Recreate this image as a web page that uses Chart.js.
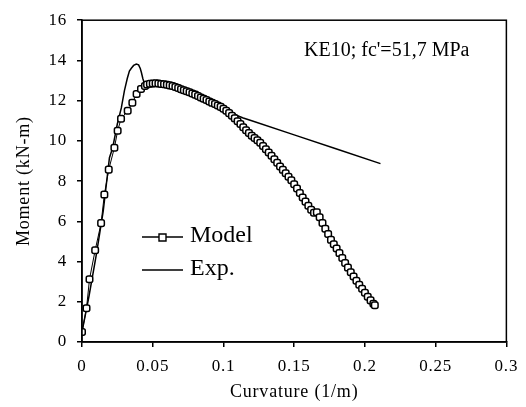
<!DOCTYPE html>
<html>
<head>
<meta charset="utf-8">
<script src="https://cdn.jsdelivr.net/npm/chart.js@4.4.0/dist/chart.umd.min.js"></script>
<style>
  html, body { margin: 0; padding: 0; background: #fff; }
  #wrap { width: 526px; height: 407px; position: relative; }
</style>
</head>
<body>
<div id="wrap"><canvas id="momentChart" width="526" height="407"></canvas></div>
<script>
// curvature (1/m) / moment (kN-m)
const modelCurv = [0, 0.0032, 0.0053, 0.0093, 0.0135, 0.0158, 0.0189, 0.0229, 0.0252, 0.0276, 0.0323, 0.0356, 0.0386, 0.0417, 0.0445,
  0.046, 0.048, 0.050, 0.052, 0.054, 0.056, 0.058, 0.060, 0.062, 0.064, 0.066, 0.068, 0.070, 0.072, 0.074, 0.076, 0.078,
  0.080, 0.082, 0.084, 0.086, 0.088, 0.090, 0.092, 0.094, 0.096, 0.098, 0.100, 0.102, 0.104, 0.106, 0.108, 0.110, 0.112,
  0.114, 0.116, 0.118, 0.120, 0.122, 0.124, 0.126, 0.128, 0.130, 0.132, 0.134, 0.136, 0.138, 0.140, 0.142, 0.144, 0.146,
  0.148, 0.150, 0.152, 0.154, 0.156, 0.158, 0.160, 0.162, 0.164, 0.166, 0.168, 0.170, 0.172, 0.174, 0.176, 0.178, 0.180,
  0.182, 0.184, 0.186, 0.188, 0.190, 0.192, 0.194, 0.196, 0.198, 0.200, 0.202, 0.204, 0.206, 0.207];
const modelMoment = [0.5, 1.68, 3.12, 4.56, 5.91, 7.33, 8.57, 9.66, 10.5, 11.1, 11.5, 11.9, 12.33, 12.58, 12.73,
  12.8, 12.84, 12.85, 12.86, 12.85, 12.83, 12.82, 12.79, 12.76, 12.73, 12.68, 12.63, 12.57, 12.52, 12.47, 12.42, 12.36,
  12.3, 12.23, 12.16, 12.1, 12.03, 11.96, 11.89, 11.83, 11.76, 11.69, 11.6, 11.5, 11.38, 11.25, 11.12, 10.98, 10.84,
  10.68, 10.53, 10.39, 10.26, 10.14, 10.03, 9.91, 9.75, 9.58, 9.42, 9.26, 9.09, 8.91, 8.73, 8.56, 8.39, 8.22,
  8.04, 7.84, 7.63, 7.41, 7.19, 6.98, 6.78, 6.58, 6.43, 6.45, 6.2, 5.92, 5.63, 5.37, 5.08, 4.86, 4.65,
  4.42, 4.18, 3.93, 3.7, 3.47, 3.26, 3.05, 2.85, 2.65, 2.45, 2.25, 2.07, 1.9, 1.83];

const expCurv = [0, 0.005, 0.01, 0.015, 0.0194, 0.0217, 0.025, 0.0278, 0.030, 0.032, 0.0335, 0.035, 0.0365, 0.0384, 0.040,
  0.0412, 0.042, 0.043, 0.044, 0.046, 0.055, 0.065, 0.075, 0.085, 0.095, 0.100, 0.105, 0.110, 0.114, 0.120, 0.150, 0.180, 0.211];
const expMoment = [0.5, 2.3, 4.3, 6.5, 9.16, 9.66, 10.85, 11.64, 12.5, 13.1, 13.47, 13.62, 13.75, 13.82, 13.78,
  13.6, 13.4, 13.1, 12.88, 12.8, 12.75, 12.65, 12.45, 12.2, 11.9, 11.68, 11.45, 11.25, 11.14, 11.0, 10.3, 9.6, 8.87];

const xTicks = [0, 0.05, 0.1, 0.15, 0.2, 0.25, 0.3];
const yTicks = [0, 2, 4, 6, 8, 10, 12, 14, 16];

const serif = "'Liberation Serif', 'DejaVu Serif', serif";

const toXY = (xs, ys) => xs.map((x, i) => ({ x: x, y: ys[i] }));

// box around the plot, legend and label inside
const extrasPlugin = {
  id: 'extras',
  beforeDraw(chart) {
    chart.ctx.letterSpacing = '0.8px';
  },
  afterDraw(chart) {
    const ctx = chart.ctx;
    const a = chart.chartArea;
    ctx.save();
    ctx.letterSpacing = '0px';
    ctx.strokeStyle = '#000';
    ctx.lineWidth = 1.5;
    ctx.strokeRect(a.left, a.top, a.right - a.left, a.bottom - a.top);

    ctx.fillStyle = '#000';
    ctx.font = '20px ' + serif;
    ctx.textBaseline = 'middle';
    ctx.fillText("KE10; fc'=51,7 MPa", 304, 51);

    // legend
    ctx.lineWidth = 1.5;
    ctx.beginPath();
    ctx.moveTo(142, 237); ctx.lineTo(183, 237);
    ctx.moveTo(142, 270); ctx.lineTo(183, 270);
    ctx.stroke();
    ctx.fillStyle = '#fff';
    ctx.lineWidth = 1.4;
    ctx.beginPath();
    ctx.rect(159, 234, 7, 7);
    ctx.fill(); ctx.stroke();
    ctx.fillStyle = '#000';
    ctx.font = '24px ' + serif;
    ctx.fillText('Model', 190, 236);
    ctx.fillText('Exp.', 190, 269);
    ctx.restore();
  }
};

new Chart(document.getElementById('momentChart'), {
  type: 'scatter',
  data: {
    datasets: [
      {
        label: 'Exp.',
        data: toXY(expCurv, expMoment),
        showLine: true,
        borderColor: '#000',
        borderWidth: 1.5,
        pointRadius: 0,
        tension: 0,
        order: 2
      },
      {
        label: 'Model',
        data: toXY(modelCurv, modelMoment),
        showLine: true,
        borderColor: '#000',
        borderWidth: 1,
        pointStyle: 'rectRounded',
        pointRadius: 3.8,
        pointBorderWidth: 1.5,
        pointBackgroundColor: '#fff',
        pointBorderColor: '#000',
        order: 1
      }
    ]
  },
  options: {
    responsive: false,
    animation: false,
    layout: { padding: { left: 0, top: 19, right: 18, bottom: 0 } },
    plugins: { legend: { display: false }, tooltip: { enabled: false } },
    scales: {
      x: {
        type: 'linear',
        min: 0, max: 0.3,
        afterBuildTicks: s => { s.ticks = xTicks.map(v => ({ value: v })); },
        afterFit: s => { s.height = 65; },
        grid: { drawOnChartArea: false, color: '#000', tickLength: 5, lineWidth: 1.5 },
        border: { color: '#000', width: 1.5 },
        ticks: { color: '#000', font: { family: serif, size: 17 }, padding: 9, maxRotation: 0,
          callback: v => String(v) },
        title: { display: true, text: 'Curvature (1/m)', color: '#000', font: { family: serif, size: 18 }, padding: { top: 4 } }
      },
      y: {
        min: 0, max: 16,
        afterBuildTicks: s => { s.ticks = yTicks.map(v => ({ value: v })); },
        afterFit: s => { s.width = 82; },
        grid: { drawOnChartArea: false, color: '#000', tickLength: 5, lineWidth: 1.5 },
        border: { color: '#000', width: 1.5 },
        ticks: { color: '#000', font: { family: serif, size: 17 }, padding: 10 },
        title: { display: true, text: 'Moment (kN-m)', color: '#000', font: { family: serif, size: 18 }, padding: { top: 13 } }
      }
    }
  },
  plugins: [extrasPlugin]
});
</script>
</body>
</html>
